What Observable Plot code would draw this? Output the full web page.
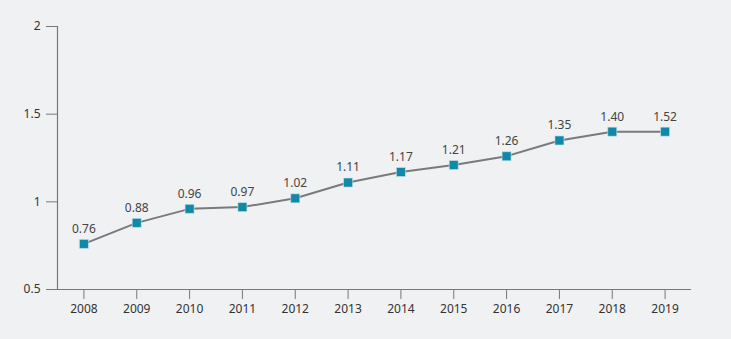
<!DOCTYPE html>
<html>
<head>
<meta charset="utf-8">
<script src="https://cdn.jsdelivr.net/npm/d3@7"></script>
<script src="https://cdn.jsdelivr.net/npm/@observablehq/plot@0.6"></script>
<style>
  html, body { margin: 0; padding: 0; background: #f0f1f3; }
  #chart svg { display: block; }
</style>
</head>
<body>
<div id="chart"></div>
<script>
const years = ["2008","2009","2010","2011","2012","2013","2014","2015","2016","2017","2018","2019"];
const values = [0.76, 0.88, 0.96, 0.97, 1.02, 1.11, 1.17, 1.21, 1.26, 1.35, 1.40, 1.40];
const labels = ["0.76","0.88","0.96","0.97","1.02","1.11","1.17","1.21","1.26","1.35","1.40","1.52"];
const yTicks = [0.5, 1, 1.5, 2];
const yTickLabels = ["0.5", "1", "1.5", "2"];

const data = years.map((y, i) => ({year: y, value: values[i], label: labels[i]}));

const W = 731, ML = 57, MR = 40;
const step = (W - ML - MR) / years.length;

const chart = Plot.plot({
  width: W,
  height: 339,
  marginLeft: ML,
  marginRight: MR,
  marginTop: 26,
  marginBottom: 50,
  style: {background: "#f0f1f3", fontFamily: "'Noto Sans', sans-serif", fontSize: "12px", color: "#333"},
  x: {type: "point", domain: years, padding: 0.5, round: false},
  y: {domain: [0.5, 2]},
  marks: [
    Plot.axisX({tickSize: 10, tickPadding: 5, stroke: "#777", fill: "#333", label: null, fontSize: 12}),
    Plot.axisY({ticks: yTicks, tickFormat: (d) => yTickLabels[yTicks.indexOf(d)], tickSize: 11, tickPadding: 6, stroke: "#777", fill: "#333", label: null, fontSize: 12}),
    Plot.ruleY([0.5], {stroke: "#777", strokeWidth: 1.2}),
    Plot.ruleX([years[0]], {stroke: "#777", strokeWidth: 1.2, dx: -step / 2}),
    Plot.line(data, {x: "year", y: "value", stroke: "#7a7a7a", strokeWidth: 2}),
    Plot.dot(data, {x: "year", y: "value", symbol: "square", r: 5.1, fill: "#0f89a6", stroke: "#cfe6ec", strokeWidth: 0.6}),
    Plot.text(data, {x: "year", y: "value", text: "label", dy: -15, fill: "#444", fontSize: 12})
  ]
});
document.getElementById("chart").appendChild(chart);
</script>
</body>
</html>
